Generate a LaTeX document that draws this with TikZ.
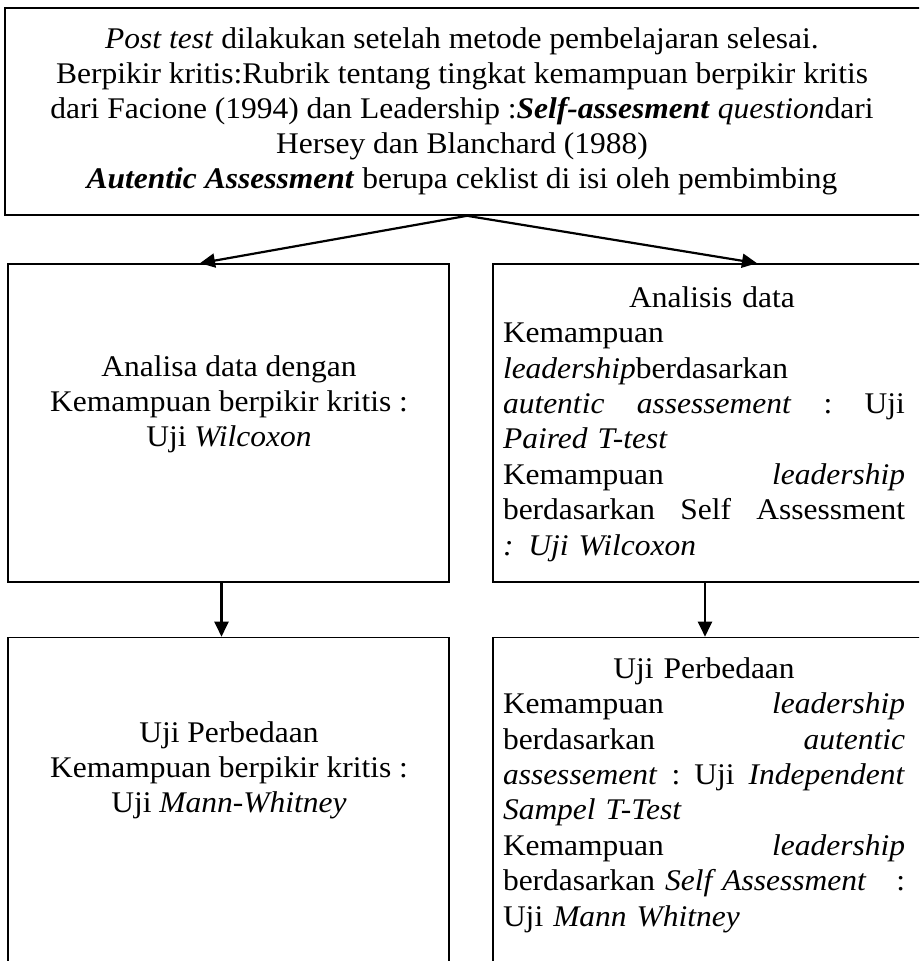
\documentclass[tikz,border=0pt]{standalone}
\usepackage{fontspec}
\setmainfont{Liberation Serif}[FakeStretch=1.05]
\usetikzlibrary{arrows.meta}
\newcommand{\jl}[1]{\leavevmode\hbox to 402pt{#1}}
\begin{document}
\begin{tikzpicture}[x=1pt,y=-1pt,
  box/.style={draw=black,line width=1.6pt,rectangle,inner sep=0pt},
  txt/.style={inner sep=0pt,font=\fontsize{30}{35}\selectfont},
  rtxt/.style={inner sep=0pt,font=\fontsize{30}{35.4}\selectfont,align=left,text width=402pt},
  arr/.style={line width=2.2pt,-{Triangle[length=15pt,width=14pt]}}]
\useasboundingbox (0,0) rectangle (919,961);
\clip (0,0) rectangle (919,961);
% boxes
\node[box,minimum width=930pt,minimum height=207pt] (top) at (470,111.5) {};
\node[box,minimum width=441pt,minimum height=318pt] (lbox) at (228.5,423) {};
\node[box,minimum width=442pt,minimum height=318pt] (rbox) at (714,423) {};
\node[box,minimum width=441pt,minimum height=343pt] (lbot) at (228.5,809) {};
\node[box,minimum width=442pt,minimum height=343pt] (rbot) at (714,809) {};
% texts
\node[txt,align=center] (toptext) at (462,111) {\textit{Post test} dilakukan setelah metode pembelajaran selesai.\\
Berpikir kritis:Rubrik tentang tingkat kemampuan berpikir kritis\\
dari Facione (1994) dan Leadership :\textbf{\textit{Self-assesment}} \textit{question}dari\\
Hersey dan Blanchard (1988)\\
\textbf{\textit{Autentic Assessment}} berupa ceklist di isi oleh pembimbing};
\node[txt,align=center] (ltext) at (229,404) {Analisa data dengan\\
Kemampuan berpikir kritis :\\
Uji \textit{Wilcoxon}};
\node[txt,align=center] (lbtext) at (229,770) {Uji Perbedaan\\
Kemampuan berpikir kritis :\\
Uji \textit{Mann-Whitney}};
\node[rtxt] (rtext) at (704,424) {\jl{\hfil\hspace{16pt}Analisis data\hfil}\\
Kemampuan\\
\textit{leadership}berdasarkan\\
\jl{\textit{autentic}\hfill\textit{assessement}\hfill:\hfill Uji}\\
\textit{Paired T-test}\\
\jl{Kemampuan\hfill\textit{leadership}}\\
\jl{berdasarkan\hfill Self\hfill Assessment}\\
\textit{: Uji Wilcoxon}};
\node[rtxt] (rbtext) at (704,795) {\jl{\hfil Uji Perbedaan\hfil}\\
\jl{Kemampuan\hfill\textit{leadership}}\\
\jl{berdasarkan\hfill\textit{autentic}}\\
\jl{\textit{assessement}\hfill:\hfill Uji\hfill\textit{Independent}}\\
\textit{Sampel T-Test}\\
\jl{Kemampuan\hfill\textit{leadership}}\\
\jl{berdasarkan \textit{Self Assessment}\hfill:}\\
Uji \textit{Mann Whitney}};
% connectors
\coordinate (split) at ([xshift=-3pt]top.south);
\coordinate (lin) at ([xshift=-28.5pt]lbox.north);
\coordinate (rin) at ([xshift=43pt]rbox.north);
\draw[arr] (split) -- (lin);
\draw[arr] (split) -- (rin);
\draw[arr] ([xshift=-7pt]lbox.south) -- ([xshift=-7pt]lbot.north);
\draw[arr] ([xshift=-9pt]rbox.south) -- ([xshift=-9pt]rbot.north);
\end{tikzpicture}
\end{document}
